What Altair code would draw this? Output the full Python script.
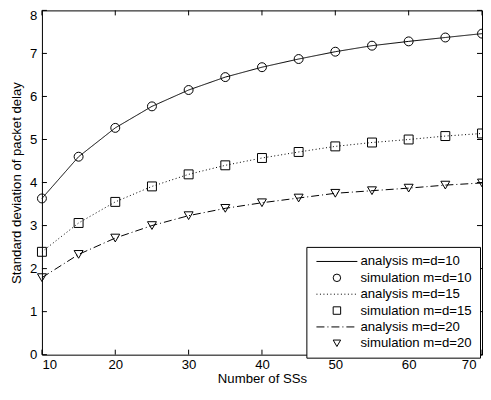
import altair as alt
import pandas as pd

# ---- data ----
x_ss = [10, 15, 20, 25, 30, 35, 40, 45, 50, 55, 60, 65, 70]
analysis_m10 = [3.63, 4.60, 5.27, 5.77, 6.15, 6.45, 6.68, 6.87, 7.04, 7.18, 7.28, 7.37, 7.46]
simulation_m10 = [3.63, 4.60, 5.27, 5.77, 6.15, 6.45, 6.68, 6.87, 7.04, 7.18, 7.28, 7.37, 7.46]
analysis_m15 = [2.39, 3.06, 3.55, 3.91, 4.19, 4.40, 4.57, 4.71, 4.84, 4.93, 5.00, 5.08, 5.14]
simulation_m15 = [2.39, 3.06, 3.55, 3.91, 4.19, 4.40, 4.57, 4.71, 4.84, 4.93, 5.00, 5.08, 5.14]
analysis_m20 = [1.79, 2.33, 2.71, 3.00, 3.23, 3.40, 3.53, 3.64, 3.75, 3.81, 3.87, 3.94, 3.99]
simulation_m20 = [1.79, 2.33, 2.71, 3.00, 3.23, 3.40, 3.53, 3.64, 3.75, 3.81, 3.87, 3.94, 3.99]

series_labels = ["analysis m=d=10", "simulation m=d=10",
                 "analysis m=d=15", "simulation m=d=15",
                 "analysis m=d=20", "simulation m=d=20"]
x_tick_values = [10, 20, 30, 40, 50, 60, 70]
y_tick_values = [0, 1, 2, 3, 4, 5, 6, 7, 8]

W, H = 441, 345
FONT = "Liberation Sans"
FS = 13.2

analysis_rows = []
for lab, ys in [(series_labels[0], analysis_m10), (series_labels[2], analysis_m15), (series_labels[4], analysis_m20)]:
    for xv, yv in zip(x_ss, ys):
        analysis_rows.append({"x": xv, "y": yv, "series": lab})
sim_rows = []
for lab, ys in [(series_labels[1], simulation_m10), (series_labels[3], simulation_m15), (series_labels[5], simulation_m20)]:
    for xv, yv in zip(x_ss, ys):
        sim_rows.append({"x": xv, "y": yv, "series": lab})
df_a = pd.DataFrame(analysis_rows)
df_s = pd.DataFrame(sim_rows)
df_xt = pd.DataFrame({"v": x_tick_values})
df_yt = pd.DataFrame({"v": y_tick_values})

# legend symbol paths (unit scale = sqrt(size)/2)
UNIT = (56 ** 0.5) / 2

def dash_path(pattern_px, half_len_px=20.5, unit=UNIT):
    segs = []
    pos = -half_len_px
    i = 0
    while pos < half_len_px - 1e-9:
        seg = pattern_px[i % len(pattern_px)]
        if i % 2 == 0:
            end = min(pos + seg, half_len_px)
            segs.append(f"M{pos / unit:.3f},0H{end / unit:.3f}")
        pos += seg
        i += 1
    return "".join(segs)

solid_path = dash_path([41, 0])
dotted_path = dash_path([1, 2.5])
dashdot_path = dash_path([8, 3, 1, 3])

xscale = alt.Scale(domain=[10, 70], nice=False, zero=False)
yscale = alt.Scale(domain=[0, 8], nice=False, zero=False)

xaxis = alt.Axis(values=x_tick_values, ticks=False, domain=False, grid=False,
                 labelPadding=4, title="Number of SSs", titlePadding=2,
                 labelOffset=alt.condition("datum.value == 70", alt.value(-6), alt.value(0)))
yaxis = alt.Axis(values=y_tick_values, ticks=False, domain=False, grid=False,
                 labelPadding=5, title="Standard deviation of packet delay", titlePadding=6,
                 labelOffset=alt.condition("datum.value == 8", alt.value(5), alt.value(0)))

lines = alt.Chart(df_a).mark_line(color="black", strokeWidth=1).encode(
    x=alt.X("x:Q", scale=xscale, axis=xaxis),
    y=alt.Y("y:Q", scale=yscale, axis=yaxis),
    strokeDash=alt.StrokeDash("series:N", scale=alt.Scale(
        domain=[series_labels[0], series_labels[2], series_labels[4]],
        range=[[1, 0], [1, 2.5], [8, 3, 1, 3]]), legend=None),
    detail="series:N",
)

points = alt.Chart(df_s).mark_point(color="black", filled=False, strokeWidth=1, size=80, opacity=1).encode(
    x=alt.X("x:Q", scale=xscale),
    y=alt.Y("y:Q", scale=yscale),
    shape=alt.Shape("series:N", scale=alt.Scale(
        domain=series_labels,
        range=[solid_path, "circle", dotted_path, "square", dashdot_path, "triangle-down"]),
        legend=alt.Legend(title=None, orient="none", legendX=265, legendY=237,
                          strokeColor="black", fillColor="white", padding=8,
                          symbolSize=56, symbolStrokeColor="black", symbolStrokeWidth=1,
                          symbolFillColor="transparent",
                          symbolOffset=16, labelOffset=17, rowPadding=2.4,
                          labelAlign="left",
                          labelFont=FONT, labelFontSize=FS, labelColor="black",
                          labelLimit=300)),
)

xt_bottom = alt.Chart(df_xt).mark_rule(color="black", strokeWidth=1).encode(
    x=alt.X("v:Q", scale=xscale), y=alt.value(H), y2=alt.value(H - 5))
xt_top = alt.Chart(df_xt).mark_rule(color="black", strokeWidth=1).encode(
    x=alt.X("v:Q", scale=xscale), y=alt.value(0), y2=alt.value(5))
yt_left = alt.Chart(df_yt).mark_rule(color="black", strokeWidth=1).encode(
    y=alt.Y("v:Q", scale=yscale), x=alt.value(0), x2=alt.value(5))
yt_right = alt.Chart(df_yt).mark_rule(color="black", strokeWidth=1).encode(
    y=alt.Y("v:Q", scale=yscale), x=alt.value(W), x2=alt.value(W - 5))

chart = alt.layer(xt_bottom, xt_top, yt_left, yt_right, lines, points).properties(
    width=W, height=H,
    autosize=alt.AutoSizeParams(type="none"),
    padding={"left": 34, "top": 2, "right": 1, "bottom": 32},
    background="white",
).configure_view(stroke="black", strokeWidth=1).configure_axis(
    labelFont=FONT, labelFontSize=FS, labelColor="black",
    titleFont=FONT, titleFontSize=FS, titleFontWeight="normal", titleColor="black",
)

chart.save("out.html", embed_options={"renderer": "svg", "actions": False})
